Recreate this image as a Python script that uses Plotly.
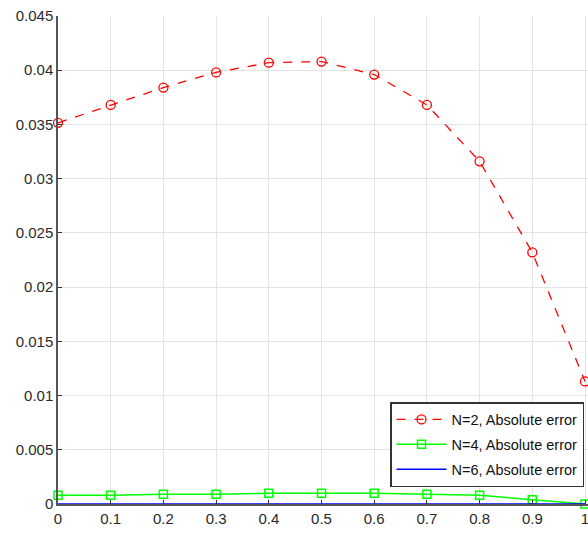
import plotly.graph_objects as go

x = [0, 0.1, 0.2, 0.3, 0.4, 0.5, 0.6, 0.7, 0.8, 0.9, 1.0]
err_n2 = [0.03515, 0.0368, 0.0384, 0.0398, 0.0407, 0.0408, 0.0396, 0.0368, 0.0316, 0.0232, 0.0113]
err_n4 = [0.0008, 0.0008, 0.0009, 0.0009, 0.0010, 0.0010, 0.0010, 0.0009, 0.0008, 0.0004, 0.0000]
err_n6 = [0.00001, 0.00001, 0.00001, 0.00001, 0.00001, 0.00001, 0.00001, 0.00001, 0.00001, 0.00001, 0.00001]

names = ["N=2, Absolute error", "N=4, Absolute error", "N=6, Absolute error"]
x_ticks = [0, 0.1, 0.2, 0.3, 0.4, 0.5, 0.6, 0.7, 0.8, 0.9, 1]
y_ticks = [0, 0.005, 0.01, 0.015, 0.02, 0.025, 0.03, 0.035, 0.04, 0.045]

fig = go.Figure()
fig.add_trace(go.Scatter(x=x, y=err_n2, name=names[0], mode="lines+markers", legendgroup="a",
                         line=dict(color="#ff0000", width=1.3, dash="dash"),
                         marker=dict(symbol="circle-open", size=9, color="#ff0000", line=dict(width=1.3)),
                         cliponaxis=False))
fig.add_trace(go.Scatter(x=x, y=err_n4, name=names[1], mode="lines+markers", legendgroup="b",
                         line=dict(color="#00ff00", width=1.5),
                         marker=dict(symbol="square-open", size=8, color="#00ff00", line=dict(width=1.5)),
                         cliponaxis=False))
fig.add_trace(go.Scatter(x=x, y=err_n6, name=names[2], mode="lines", legendgroup="c",
                         line=dict(color="#0000ff", width=1.5),
                         cliponaxis=False))

axis_common = dict(showgrid=True, gridcolor="#e3e3e3", gridwidth=1,
                   showline=True, linecolor="#555555", linewidth=1.5,
                   ticks="inside", ticklen=4, tickcolor="#333333",
                   zeroline=False, ticklabeloverflow="allow", automargin=False,
                   tickfont=dict(family="Liberation Sans, Arial", size=15, color="#2a2a2a"))

fig.update_xaxes(range=[0, 1.0057], tickvals=x_ticks, ticktext=[str(v) for v in x_ticks], **axis_common)
fig.update_yaxes(range=[0, 0.045], tickvals=y_ticks, ticktext=[("%g" % v) for v in y_ticks], **axis_common)

fig.update_layout(
    width=588, height=536,
    margin=dict(l=58, r=0, t=16, b=32),
    paper_bgcolor="white", plot_bgcolor="white",
    font=dict(family="Liberation Sans, Arial", size=12, color="#222222"),
    legend=dict(x=0.9925, y=0.209, xanchor="right", yanchor="top",
                bgcolor="white", bordercolor="#333333", borderwidth=1.5,
                font=dict(family="Liberation Sans, Arial", size=14.5, color="#111111"),
                tracegroupgap=3, itemsizing="trace", itemwidth=50),
)

fig.write_html("out.html",
               config={"displayModeBar": False},
               post_script="document.body.style.margin='0';document.body.style.overflow='hidden';")
